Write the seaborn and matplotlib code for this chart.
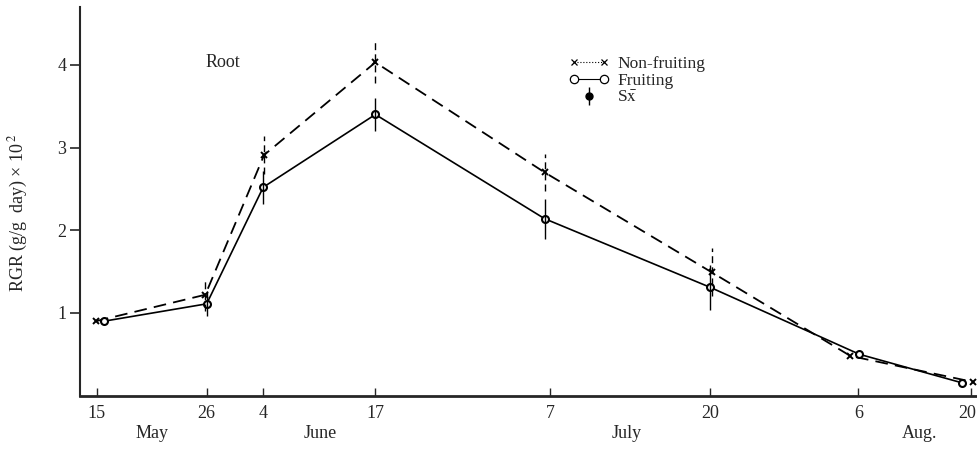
import matplotlib
matplotlib.use("Agg")
import matplotlib.pyplot as plt
from matplotlib.lines import Line2D
from matplotlib.legend_handler import HandlerLine2D, HandlerTuple
import matplotlib.transforms as mtransforms
import numpy as np
import pandas as pd
import seaborn as sns

# Sampling dates (positions along the time axis, as spaced on the plot)
tick_pos = [0.0, 12.15, 18.4, 30.8, 50.1, 67.8, 84.2, 96.6]
tick_labels = ["15", "26", "4", "17", "7", "20", "6", "20"]
month_labels = ["May", "June", "July", "Aug."]
month_pos = [6.1, 24.7, 58.6, 90.9]

# Relative growth rate of roots (x 10^-2 g/g day)
x_nonfruit = [-0.1, 12.0, 18.5, 30.8, 49.5, 68.0, 83.3, 96.9]
rgr_nonfruit = [0.90, 1.22, 2.91, 4.03, 2.70, 1.49, 0.48, 0.165]
se_nonfruit = [0.0, 0.20, 0.23, 0.25, 0.22, 0.29, 0.0, 0.0]

x_fruit = [0.8, 12.15, 18.4, 30.8, 49.5, 67.8, 84.3, 95.6]
rgr_fruit = [0.90, 1.11, 2.52, 3.40, 2.14, 1.31, 0.50, 0.156]
se_fruit = [0.0, 0.15, 0.20, 0.20, 0.24, 0.27, 0.0, 0.0]

sns.set_style("ticks")
plt.rcParams["font.family"] = ["Liberation Serif", "DejaVu Serif"]
plt.rcParams["mathtext.fontset"] = "stix"

fig = plt.figure(figsize=(9.77, 4.51), dpi=100)
ax = fig.add_axes([0.0819, 0.1228, 0.9181, 0.8617])

df_nf = pd.DataFrame({"x": x_nonfruit, "rgr": rgr_nonfruit})
df_f = pd.DataFrame({"x": x_fruit, "rgr": rgr_fruit})

sns.lineplot(data=df_nf, x="x", y="rgr", ax=ax, color="black", lw=1.3,
             linestyle=(0, (7, 4)), marker="x", markersize=5,
             markeredgewidth=1.4, markeredgecolor="black", clip_on=False)
sns.lineplot(data=df_f, x="x", y="rgr", ax=ax, color="black", lw=1.2,
             linestyle="-", marker="o", markersize=5, markerfacecolor="white",
             markeredgewidth=1.5, markeredgecolor="black", clip_on=False)

# Standard errors as plain vertical bars
nf_mask = np.array(se_nonfruit) > 0
f_mask = np.array(se_fruit) > 0
eb1 = ax.errorbar(np.array(x_nonfruit)[nf_mask], np.array(rgr_nonfruit)[nf_mask],
                  yerr=np.array(se_nonfruit)[nf_mask], fmt="none", ecolor="black",
                  elinewidth=1.0, capsize=0)
eb1[2][0].set_linestyle((0, (5, 3)))
ax.errorbar(np.array(x_fruit)[f_mask], np.array(rgr_fruit)[f_mask],
            yerr=np.array(se_fruit)[f_mask], fmt="none", ecolor="black",
            elinewidth=1.0, capsize=0)

ax.set_xlim(-1.85, 97.3)
ax.set_ylim(0, 4.7)
ax.set_xticks(tick_pos)
ax.set_xticklabels(tick_labels)
ax.set_yticks([1, 2, 3, 4])
ax.set_yticklabels(["1", "2", "3", "4"])
ax.tick_params(axis="x", direction="in", length=6, width=1.0, pad=7, labelsize=13)
ax.tick_params(axis="y", direction="out", length=7, width=1.2, pad=3, labelsize=13)
ax.set_xlabel("")
ax.set_ylabel("RGR (g/g  day) × 10$^{\\,2}$", fontsize=13)
ax.yaxis.set_label_coords(-0.056, 0.47)

# keep the last date label inside the figure edge
last = ax.get_xticklabels()[-1]
last.set_transform(last.get_transform() +
                   mtransforms.ScaledTranslation(-3 / 100, 0, fig.dpi_scale_trans))

sns.despine(ax=ax)
ax.spines["bottom"].set_linewidth(2.0)
ax.spines["left"].set_linewidth(1.5)

trans = mtransforms.blended_transform_factory(ax.transData, ax.transAxes)
for m, p in zip(month_labels, month_pos):
    ax.text(p, -0.097, m, transform=trans, ha="center", va="center", fontsize=13)

ax.text(13.9, 0.857, "Root", transform=trans, ha="center", va="center", fontsize=13)

h_nf = Line2D([], [], color="black", ls=":", lw=0.8, marker="x", markersize=5,
              markeredgewidth=0.9)
h_f = Line2D([], [], color="black", ls="-", lw=0.8, marker="o", markersize=6,
             markerfacecolor="white", markeredgewidth=0.9)
h_se = (Line2D([], [], color="black", ls="none", marker="|", markersize=13,
               markeredgewidth=1.0),
        Line2D([], [], color="black", ls="none", marker="o", markersize=5))
ax.legend([h_nf, h_f, h_se], ["Non-fruiting", "Fruiting", "S$\\bar{\\rm x}$"],
          loc="upper left", bbox_to_anchor=(0.545, 0.874),
          frameon=False, fontsize=12.5, numpoints=1, handlelength=2.3,
          handletextpad=0.5, labelspacing=0.05, borderaxespad=0, borderpad=0,
          handler_map={h_nf: HandlerLine2D(numpoints=2),
                       h_f: HandlerLine2D(numpoints=2),
                       tuple: HandlerTuple(ndivide=1)})

fig.savefig("out.png", dpi=100, facecolor="white")
